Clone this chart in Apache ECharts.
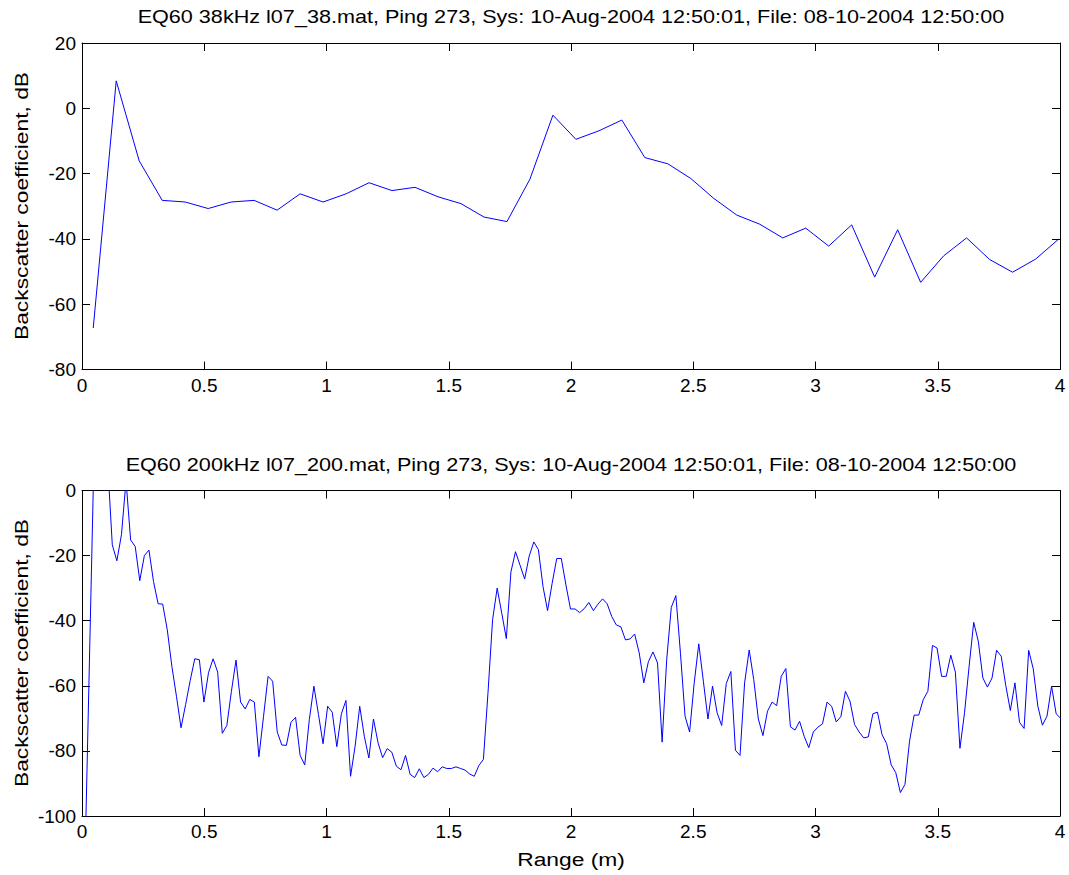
<!DOCTYPE html>
<html><head><meta charset="utf-8">
<script src="https://cdn.jsdelivr.net/npm/echarts@6/dist/echarts.min.js"></script>
<style>html,body{margin:0;padding:0;background:#fff}#c{width:1069px;height:875px}</style>
</head><body><div id="c"></div>
<script>
// ---- Data ----
const title38 = "EQ60 38kHz l07_38.mat, Ping 273, Sys: 10-Aug-2004 12:50:01, File: 08-10-2004 12:50:00";
const title200 = "EQ60 200kHz l07_200.mat, Ping 273, Sys: 10-Aug-2004 12:50:01, File: 08-10-2004 12:50:00";
const xName = "Range (m)";
const yName = "Backscatter coefficient, dB";

const range38 = [0.046,0.140,0.234,0.328,0.422,0.516,0.610,0.704,0.798,0.892,0.986,1.080,1.174,1.268,1.362,1.456,1.550,1.644,1.738,1.832,1.926,2.020,2.114,2.208,2.302,2.396,2.490,2.584,2.678,2.772,2.866,2.960,3.054,3.148,3.242,3.336,3.430,3.524,3.618,3.712,3.806,3.900,3.994];
const sv38 = [-67.3,8.4,-16.1,-28.2,-28.7,-30.7,-28.7,-28.2,-31.2,-26.2,-28.7,-26.2,-22.8,-25.2,-24.2,-27.1,-29.2,-33.3,-34.7,-21.7,-2.1,-9.5,-6.9,-3.6,-15.1,-17.0,-21.5,-27.6,-32.7,-35.5,-39.7,-36.7,-42.2,-35.7,-51.7,-37.2,-53.3,-45.2,-39.7,-46.3,-50.2,-46.2,-40.1];

const range200 = [
0.0115,0.0302,0.0489,0.0677,0.0864,0.1052,0.1239,0.1426,0.1614,0.1801,
0.1989,0.2176,0.2363,0.2551,0.2738,0.2926,0.3113,0.3300,0.3488,0.3675,
0.3863,0.4050,0.4237,0.4425,0.4612,0.4800,0.4987,0.5174,0.5362,0.5549,
0.5737,0.5924,0.6111,0.6299,0.6486,0.6674,0.6861,0.7048,0.7236,0.7423,
0.7611,0.7798,0.7985,0.8173,0.8360,0.8548,0.8735,0.8922,0.9110,0.9297,
0.9485,0.9672,0.9859,1.0047,1.0234,1.0422,1.0609,1.0796,1.0984,1.1171,
1.1359,1.1546,1.1733,1.1921,1.2108,1.2296,1.2483,1.2670,1.2858,1.3045,
1.3233,1.3420,1.3607,1.3795,1.3982,1.4170,1.4357,1.4544,1.4732,1.4919,
1.5107,1.5294,1.5481,1.5669,1.5856,1.6044,1.6231,1.6418,1.6606,1.6793,
1.6981,1.7168,1.7355,1.7543,1.7730,1.7918,1.8105,1.8292,1.8480,1.8667,
1.8855,1.9042,1.9229,1.9417,1.9604,1.9792,1.9979,2.0166,2.0354,2.0541,
2.0729,2.0916,2.1103,2.1291,2.1478,2.1666,2.1853,2.2040,2.2228,2.2415,
2.2603,2.2790,2.2977,2.3165,2.3352,2.3540,2.3727,2.3914,2.4102,2.4289,
2.4477,2.4664,2.4851,2.5039,2.5226,2.5414,2.5601,2.5788,2.5976,2.6163,
2.6351,2.6538,2.6725,2.6913,2.7100,2.7288,2.7475,2.7662,2.7850,2.8037,
2.8225,2.8412,2.8599,2.8787,2.8974,2.9162,2.9349,2.9536,2.9724,2.9911,
3.0099,3.0286,3.0473,3.0661,3.0848,3.1036,3.1223,3.1410,3.1598,3.1785,
3.1973,3.2160,3.2347,3.2535,3.2722,3.2910,3.3097,3.3284,3.3472,3.3659,
3.3847,3.4034,3.4221,3.4409,3.4596,3.4784,3.4971,3.5158,3.5346,3.5533,
3.5721,3.5908,3.6095,3.6283,3.6470,3.6658,3.6845,3.7032,3.7220,3.7407,
3.7595,3.7782,3.7969,3.8157,3.8344,3.8532,3.8719,3.8906,3.9094,3.9281,
3.9469,3.9656,3.9843,4.0031];
const sv200 = [
-116,-53,10,15,12,8,-16.7,-21.6,-13.6,3,
-15.2,-17.2,-27.7,-20,-18.3,-28,-34.8,-34.9,-42.8,-54,
-63.2,-72.9,-65.8,-58.4,-51.7,-52,-65,-56,-51.7,-55.8,
-74.6,-72.2,-61.7,-52.1,-65.0,-67.1,-64.2,-65,-81.8,-69.5,
-57.1,-58.6,-74.2,-78.2,-78.3,-71.2,-69.7,-81.4,-84.3,-70.4,
-60.1,-68.8,-77.8,-66.3,-68.1,-78.7,-68.6,-64.5,-87.8,-78.5,
-66.3,-75.5,-82.2,-70.2,-77.5,-82.1,-79.3,-80.4,-84.7,-85.8,
-81.4,-87.2,-88.2,-85.5,-88.2,-87.2,-85.3,-86.4,-84.9,-85.4,
-85.4,-84.9,-85.4,-85.9,-87.1,-87.8,-84.5,-82.6,-62,-39.7,
-30.0,-37.7,-45.5,-25.0,-18.8,-23,-27.2,-20.1,-15.8,-18.2,
-29.5,-36.9,-28.5,-20.9,-20.9,-29,-36.4,-36.4,-37.5,-36.3,
-34.4,-36.9,-34.9,-33.3,-34.8,-38.7,-41.3,-41.9,-45.9,-45.6,
-44.1,-49.9,-59.1,-52.6,-49.6,-53.0,-77.3,-52.0,-35.9,-32.3,
-50,-69.3,-74.2,-59.1,-47.1,-58.6,-70.2,-60.1,-68.3,-72.2,
-59.3,-55.6,-79.8,-81.4,-59.1,-49.0,-58.1,-70.2,-75.3,-67.8,
-65.0,-66.1,-57.1,-54.7,-72.6,-73.6,-70.9,-75.5,-79.0,-74.2,
-72.7,-71.7,-65.0,-66.3,-71.1,-69.5,-61.7,-64.7,-71.9,-74.2,
-76.0,-75.7,-68.6,-68.1,-75.0,-77.8,-84.3,-86.7,-92.8,-90.3,
-77.0,-69,-69,-64.2,-61.7,-47.6,-48.4,-57.1,-57.1,-50.6,
-55.8,-79.2,-68.3,-54.0,-40.5,-46.3,-57.6,-60.4,-57.6,-49.1,
-50.9,-59.9,-67.6,-59.1,-71.2,-73.1,-49.1,-54.8,-66.3,-72.1,
-69.3,-60.1,-68.6,-70];

// ---- Chart ----
const FONT = "'Liberation Sans',Arial,sans-serif";
const chart = echarts.init(document.getElementById('c'), null, {renderer:'svg'});
const pairs = (xs, ys) => xs.map((x,i)=>[x, ys[i]]);

function xAx(gi, pos, labels){
  return {type:'value', gridIndex:gi, position:pos, min:0, max:4, interval:0.5,
    axisLine:{show:true, onZero:false, lineStyle:{color:'#000', width:1}},
    axisTick:{show:true, inside:true, length:8, lineStyle:{color:'#000'}},
    axisLabel:{show:labels, color:'#000', fontFamily:FONT, fontSize:19, margin:6},
    splitLine:{show:false}};
}
function yAx(gi, pos, labels, min, max){
  return {type:'value', gridIndex:gi, position:pos, min:min, max:max, interval:20,
    axisLine:{show:true, onZero:false, lineStyle:{color:'#000', width:1}},
    axisTick:{show:true, inside:true, length:8, lineStyle:{color:'#000'}},
    axisLabel:{show:labels, color:'#000', fontFamily:FONT, fontSize:19, margin:6},
    splitLine:{show:false}};
}
function txt(s, x, y, size, rot){
  return {type:'text', x:x, y:y, rotation:rot||0, scaleX:1.2, silent:true,
    style:{text:s, fill:'#000', font:size+'px '+FONT, textAlign:'center', textVerticalAlign:'middle'}};
}

chart.setOption({
  backgroundColor:'#fff',
  animation:false,
  grid:[
    {left:82, top:43, width:978, height:326.5, containLabel:false},
    {left:82, top:490.5, width:978, height:325.5, containLabel:false}
  ],
  xAxis:[xAx(0,'bottom',true), xAx(0,'top',false), xAx(1,'bottom',true), xAx(1,'top',false)],
  yAxis:[yAx(0,'left',true,-80,20), yAx(0,'right',false,-80,20), yAx(1,'left',true,-100,0), yAx(1,'right',false,-100,0)],
  graphic:[
    txt(title38, 571, 17, 18),
    txt(title200, 571, 465, 18),
    txt(xName, 571, 859, 19),
    txt(yName, 21, 206, 19, Math.PI/2),
    txt(yName, 21, 653, 19, Math.PI/2)
  ],
  series:[
    {type:'line', xAxisIndex:0, yAxisIndex:0, data:pairs(range38, sv38), showSymbol:false, symbol:'none', clip:true,
      lineStyle:{color:'#0000ff', width:1}},
    {type:'line', xAxisIndex:2, yAxisIndex:2, data:pairs(range200, sv200), showSymbol:false, symbol:'none', clip:true,
      lineStyle:{color:'#0000ff', width:1}}
  ]
});
</script></body></html>
